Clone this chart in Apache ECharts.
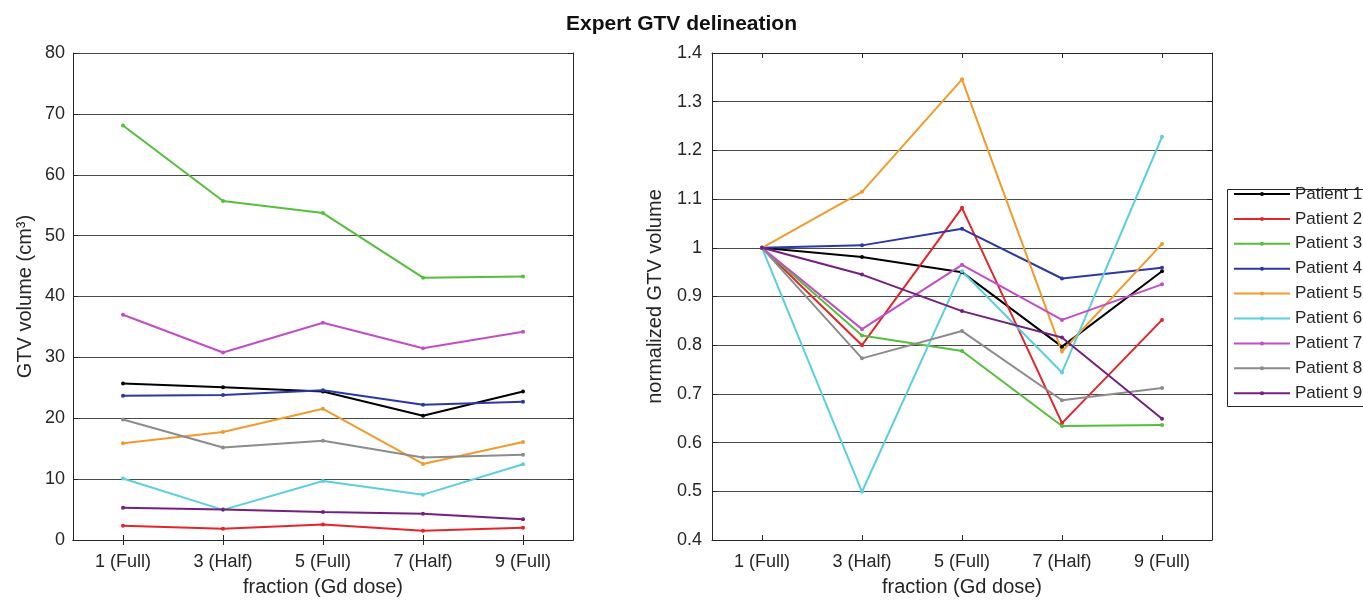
<!DOCTYPE html>
<html>
<head>
<meta charset="utf-8">
<script src="https://cdn.jsdelivr.net/npm/echarts@6/dist/echarts.min.js"></script>
<style>
html,body{margin:0;padding:0;background:#fff;overflow:hidden;width:1363px;height:602px;}
#chart{width:1363px;height:602px;}
</style>
</head>
<body>
<div id="chart"></div>
<script>
const categories = ['1 (Full)', '3 (Half)', '5 (Full)', '7 (Half)', '9 (Full)'];
const patientNames = ['Patient 1','Patient 2','Patient 3','Patient 4','Patient 5','Patient 6','Patient 7','Patient 8','Patient 9'];
const patientColors = ['#000000','#e3262b','#55bf3b','#2b38a8','#f09c2c','#5ccfdf','#c04fc6','#8c8c8c','#74207f'];

// GTV volume (cm^3)
const vol1 = [25.7, 25.1, 24.4, 20.4, 24.4];
const vol2 = [2.35, 1.85, 2.55, 1.5, 2.0];
const vol3 = [68.1, 55.7, 53.7, 43.1, 43.3];
const vol4 = [23.7, 23.8, 24.6, 22.2, 22.7];
const vol5 = [15.9, 17.75, 21.55, 12.5, 16.1];
const vol6 = [10.1, 4.95, 9.7, 7.45, 12.45];
const vol7 = [37.0, 30.8, 35.7, 31.5, 34.2];
const vol8 = [19.8, 15.2, 16.3, 13.55, 14.0];
const vol9 = [5.3, 5.0, 4.6, 4.3, 3.4];

// normalized GTV volume
const norm1 = [1, 0.981, 0.95, 0.797, 0.952];
const norm2 = [1, 0.80, 1.082, 0.64, 0.852];
const norm3 = [1, 0.82, 0.788, 0.634, 0.636];
const norm4 = [1, 1.005, 1.039, 0.937, 0.959];
const norm5 = [1, 1.115, 1.346, 0.787, 1.008];
const norm6 = [1, 0.499, 0.952, 0.744, 1.228];
const norm7 = [1, 0.833, 0.965, 0.852, 0.925];
const norm8 = [1, 0.773, 0.829, 0.687, 0.712];
const norm9 = [1, 0.945, 0.87, 0.816, 0.649];

const leftTicks = {min: 0, max: 80, interval: 10};
const rightTicks = {min: 0.4, max: 1.4, interval: 0.1};

const volData = [vol1, vol2, vol3, vol4, vol5, vol6, vol7, vol8, vol9];
const normData = [norm1, norm2, norm3, norm4, norm5, norm6, norm7, norm8, norm9];

const FONT = '"Liberation Sans", Arial, sans-serif';
const TXT = '#262626';
const AX = '#262626';

function bottomX(gi) {
  return {
    type: 'category', gridIndex: gi, data: categories, position: 'bottom',
    boundaryGap: true,
    axisLine: {show: true, lineStyle: {color: AX, width: 1}},
    axisTick: {show: true, inside: true, length: 5, alignWithLabel: true, lineStyle: {color: AX}},
    axisLabel: {color: TXT, fontSize: 18, fontFamily: FONT, margin: 13},
    name: 'fraction (Gd dose)', nameLocation: 'middle', nameGap: 37,
    nameTextStyle: {color: TXT, fontSize: 20, fontFamily: FONT},
    splitLine: {show: false}
  };
}
function topX(gi) {
  return {
    type: 'category', gridIndex: gi, data: categories, position: 'top',
    boundaryGap: true,
    axisLine: {show: true, lineStyle: {color: AX, width: 1}},
    axisTick: {show: true, inside: true, length: 5, alignWithLabel: true, lineStyle: {color: AX}},
    axisLabel: {show: false}, splitLine: {show: false}
  };
}
function leftY(gi, t, name, gap, margin) {
  return {
    type: 'value', gridIndex: gi, min: t.min, max: t.max, interval: t.interval,
    axisLine: {show: true, lineStyle: {color: AX, width: 1}},
    axisTick: {show: true, inside: true, length: 5, lineStyle: {color: AX}},
    axisLabel: {color: TXT, fontSize: 18, fontFamily: FONT, margin: margin},
    splitLine: {show: true, lineStyle: {color: '#4a4a4a', width: 1}},
    name: name, nameLocation: 'middle', nameGap: gap,
    nameTextStyle: {color: TXT, fontSize: 20, fontFamily: FONT}
  };
}
function rightY(gi, t) {
  return {
    type: 'value', gridIndex: gi, min: t.min, max: t.max, interval: t.interval, position: 'right',
    axisLine: {show: true, lineStyle: {color: AX, width: 1}},
    axisTick: {show: true, inside: true, length: 5, lineStyle: {color: AX}},
    axisLabel: {show: false}, splitLine: {show: false}
  };
}

const series = [];
patientNames.forEach((n, i) => {
  const common = {
    name: n, type: 'line', symbol: 'circle', symbolSize: 4, showSymbol: true,
    lineStyle: {width: 2, color: patientColors[i]},
    itemStyle: {color: patientColors[i]},
    emphasis: {disabled: true}, animation: false
  };
  series.push(Object.assign({}, common, {xAxisIndex: 0, yAxisIndex: 0, data: volData[i]}));
  series.push(Object.assign({}, common, {xAxisIndex: 2, yAxisIndex: 2, data: normData[i]}));
});

const chart = echarts.init(document.getElementById('chart'), null, {renderer: 'canvas', width: 1363, height: 602});
chart.setOption({
  backgroundColor: '#ffffff',
  animation: false,
  title: {
    text: 'Expert GTV delineation', left: 'center', top: 9,
    textStyle: {fontSize: 21, fontWeight: 'bold', color: '#111', fontFamily: FONT}
  },
  grid: [
    {left: 73, top: 53, width: 500, height: 490, containLabel: false},
    {left: 712, top: 53, width: 500, height: 490, containLabel: false}
  ],
  xAxis: [bottomX(0), topX(0), bottomX(1), topX(1)],
  yAxis: [
    leftY(0, leftTicks, 'GTV volume (cm³)', 38, 8),
    rightY(0, leftTicks),
    leftY(1, rightTicks, 'normalized GTV volume', 47, 10),
    rightY(1, rightTicks)
  ],
  graphic: [{
    type: 'rect', z: 0, silent: true,
    shape: {x: 1227.5, y: 189.5, width: 150, height: 217},
    style: {fill: '#ffffff', stroke: '#262626', lineWidth: 1}
  }],
  legend: {
    data: patientNames, orient: 'vertical', left: 1233, top: 185.5, padding: 0,
    itemWidth: 56, itemHeight: 5, itemGap: 7.9, z: 10,
    textStyle: {fontSize: 17, color: TXT, fontFamily: FONT, lineHeight: 17},
    selectedMode: false
  },
  series: series
});
</script>
</body>
</html>
